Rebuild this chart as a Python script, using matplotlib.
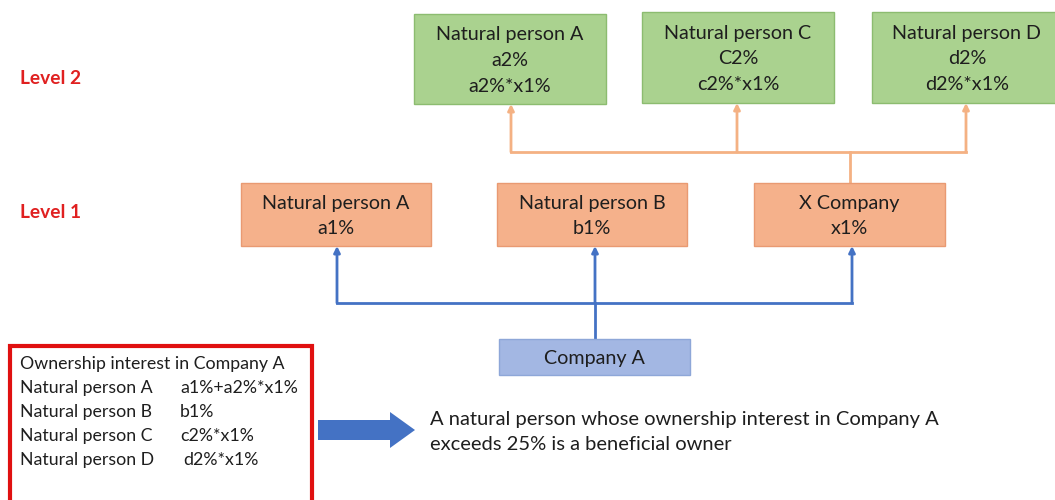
import matplotlib.pyplot as plt
from matplotlib.patches import Rectangle, FancyArrow

plt.rcParams['font.family'] = ['Lato', 'DejaVu Sans']

# level 2 holders (owners of X Company)
level2_names = ['Natural person A', 'Natural person C', 'Natural person D']
level2_share = ['a2%', 'C2%', 'd2%']
level2_indirect = ['a2%*x1%', 'c2%*x1%', 'd2%*x1%']

# level 1 holders (direct owners of Company A)
level1_names = ['Natural person A', 'Natural person B', 'X Company']
level1_share = ['a1%', 'b1%', 'x1%']

summary_title = 'Ownership interest in Company A'
summary_people = ['Natural person A', 'Natural person B', 'Natural person C', 'Natural person D']
summary_values = ['a1%+a2%*x1%', 'b1%', 'c2%*x1%', 'd2%*x1%']

conclusion = ['A natural person whose ownership interest in Company A',
              'exceeds 25% is a beneficial owner']

# box layout in pixels (left, top, width, height)
level2_boxes = [(414, 14, 192, 90), (642, 12, 192, 91), (872, 12, 190, 91)]
level1_boxes = [(241, 183, 190, 63), (497, 183, 190, 63), (754, 183, 191, 63)]
company_box = (499, 339, 191, 36)

green_fill, green_edge = '#aad28f', '#8cbc70'
orange_fill, orange_edge = '#f5b18b', '#e99a72'
blue_fill, blue_edge = '#a3b7e3', '#8ea7d8'
orange_line = '#f4b183'
blue_line = '#4472c4'
text_col = '#1e1e1e'

fig = plt.figure(figsize=(10.55, 5.0), dpi=100)
ax = fig.add_axes([0, 0, 1, 1])
ax.set_xlim(0, 1055)
ax.set_ylim(500, 0)
ax.axis('off')


def box(ax, rect, fill, edge, lines, fs=14.2, step=26):
    x, y, w, h = rect
    ax.add_patch(Rectangle((x, y), w, h, facecolor=fill, edgecolor=edge, lw=1.0, zorder=2))
    cx = x + w / 2
    n = len(lines)
    cy0 = y + h / 2 - step * (n - 1) / 2 + 1.5
    for i, t in enumerate(lines):
        ax.text(cx, cy0 + i * step, t, ha='center', va='center', fontsize=fs,
                color=text_col, zorder=3)


for rect, n, s, ind in zip(level2_boxes, level2_names, level2_share, level2_indirect):
    box(ax, rect, green_fill, green_edge, [n, s, ind])
for rect, n, s in zip(level1_boxes, level1_names, level1_share):
    box(ax, rect, orange_fill, orange_edge, [n, s], step=25)
box(ax, company_box, blue_fill, blue_edge, ['Company A'])


def connectors(ax, src_rect, dst_rects, ybar, color, dst_x=None):
    sx = src_rect[0] + src_rect[2] / 2
    top = src_rect[1]
    xs = dst_x if dst_x else [r[0] + r[2] / 2 for r in dst_rects]
    ax.plot([sx, sx], [top, ybar], color=color, lw=2, zorder=1)
    ax.plot([min(xs), max(xs)], [ybar, ybar], color=color, lw=2, zorder=1)
    for x, r in zip(xs, dst_rects):
        bottom = r[1] + r[3]
        ax.annotate('', xy=(x, bottom), xytext=(x, ybar),
                    arrowprops=dict(arrowstyle='-|>', color=color, lw=2,
                                    mutation_scale=9, shrinkA=0, shrinkB=0),
                    zorder=1)


connectors(ax, level1_boxes[2], level2_boxes, 152, orange_line, dst_x=[511, 737, 966])
connectors(ax, company_box, level1_boxes, 303, blue_line, dst_x=[337, 595, 852])

# level labels
ax.text(20, 78, 'Level 2', color='#e02020', fontsize=13.8, fontweight='bold', va='center')
ax.text(20, 213, 'Level 1', color='#e02020', fontsize=13.8, fontweight='bold', va='center')

# summary box
ax.add_patch(Rectangle((10, 346), 302, 160, facecolor='white', edgecolor='#e01010',
                       lw=3, zorder=2))
ax.text(20, 364, summary_title, fontsize=12.8, color=text_col, va='center', zorder=3)
for i, (p, v) in enumerate(zip(summary_people, summary_values)):
    y = 388 + i * 24
    ax.text(20, y, p, fontsize=12.8, color=text_col, va='center', zorder=3)
    ax.text(180 if i < 3 else 183, y, v, fontsize=12.8, color=text_col, va='center', zorder=3)

# block arrow
ax.add_patch(FancyArrow(318, 430, 72, 0, width=20, head_width=36, head_length=25,
                        length_includes_head=False, color='#4472c4', lw=0, zorder=2))
for i, line in enumerate(conclusion):
    ax.text(430, 419 + i * 25, line, fontsize=14.5, color=text_col, va='center')

fig.savefig('out.png', dpi=100)
